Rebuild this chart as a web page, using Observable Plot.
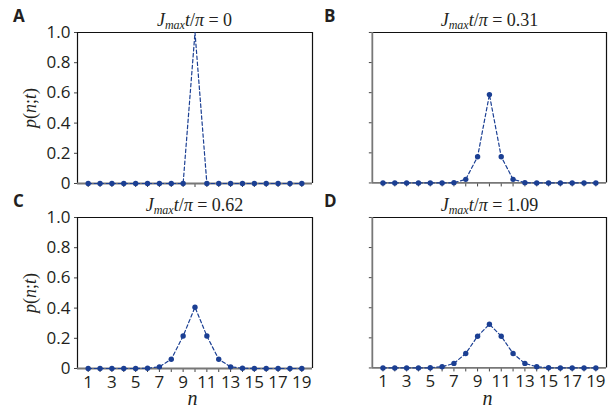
<!DOCTYPE html>
<html>
<head>
<meta charset="utf-8">
<script src="https://cdn.jsdelivr.net/npm/d3@7"></script>
<script src="https://cdn.jsdelivr.net/npm/@observablehq/plot@0.6"></script>
<style>
  html, body { margin: 0; padding: 0; background: #fff; }
  #wrap { position: relative; width: 608px; height: 410px; overflow: hidden; font-family: "Open Sans", sans-serif; color: #231f20; }
  .panel { position: absolute; }
  .panel svg { overflow: visible; }
  .title { position: absolute; font-family: "Liberation Serif", serif; font-size: 18px; white-space: nowrap; transform: translateX(-50%); line-height: 1; }
  .title sub { font-size: 12px; vertical-align: -3px; }
  .letter { position: absolute; font-family: "Open Sans", sans-serif; font-weight: 700; font-size: 17px; line-height: 1; }
  .ylab { position: absolute; font-family: "Liberation Serif", serif; font-size: 18px; white-space: nowrap; transform: translate(-50%, -50%) rotate(-90deg); line-height: 1; }
  .xlab { position: absolute; font-family: "Liberation Serif", serif; font-size: 20px; font-style: italic; transform: translate(-50%, -50%); line-height: 1; }
</style>
</head>
<body>
<div id="wrap"></div>
<script>
// ---- data ----
const n = [1, 2, 3, 4, 5, 6, 7, 8, 9, 10, 11, 12, 13, 14, 15, 16, 17, 18, 19];
const pA = [0, 0, 0, 0, 0, 0, 0, 0, 0, 1, 0, 0, 0, 0, 0, 0, 0, 0, 0];
const pB = [0, 0, 0, 0, 0, 0, 0.002, 0.024, 0.174, 0.587, 0.174, 0.024, 0.002, 0, 0, 0, 0, 0, 0];
const pC = [0, 0, 0, 0, 0, 0.002, 0.011, 0.061, 0.215, 0.406, 0.215, 0.061, 0.011, 0.002, 0, 0, 0, 0, 0];
const pD = [0, 0, 0, 0, 0.001, 0.008, 0.030, 0.096, 0.211, 0.290, 0.211, 0.096, 0.030, 0.008, 0.001, 0, 0, 0, 0];
const times = ["0", "0.31", "0.62", "1.09"];
const letters = ["A", "B", "C", "D"];
const yTicks = [0, 0.2, 0.4, 0.6, 0.8, 1.0];
const xLabelTicks = [1, 3, 5, 7, 9, 11, 13, 15, 17, 19];

const series = [pA, pB, pC, pD];
const blue = "#1b3f93";

// frame geometry (pixel positions of each panel's plotting area)
const frames = [
  {left: 77, top: 32, showX: false, showY: true},
  {left: 372, top: 32, showX: false, showY: false},
  {left: 77, top: 217, showX: true, showY: true},
  {left: 372, top: 217, showX: true, showY: false}
];
const fw = 235, fh = 151;
const mL = 50, mR = 2, mT = 6, mB = 30;

const wrap = document.getElementById("wrap");

series.forEach((p, i) => {
  const f = frames[i];
  const data = n.map((v, j) => ({n: v, p: p[j]}));
  const chart = Plot.plot({
    width: fw + mL + mR,
    height: fh + mT + mB,
    marginLeft: mL, marginRight: mR, marginTop: mT, marginBottom: mB,
    x: {domain: [0.1, 19.9]},
    y: {domain: [0, 1]},
    style: {fontFamily: "Open Sans", fontSize: "17px", color: "#231f20", background: "transparent", overflow: "visible"},
    marks: [
      Plot.axisX({ticks: n, tickSize: 4, tickPadding: 3, stroke: "#444",
        tickFormat: f.showX ? (d => xLabelTicks.includes(d) ? String(d) : "") : (() => ""), label: null}),
      Plot.axisY({ticks: yTicks, tickSize: 3, tickPadding: 4, stroke: "#444",
        tickFormat: f.showY ? (d => d === 0 ? "0" : d.toFixed(1)) : (() => ""), label: null}),
      Plot.ruleY([1], {stroke: "#111", strokeWidth: 1.2}),
      Plot.ruleX([19.9], {stroke: "#111", strokeWidth: 1.2}),
      Plot.ruleX([0.1], {stroke: f.showY ? "#111" : "#777", strokeWidth: f.showY ? 1.2 : 1.8}),
      Plot.ruleY([0], {stroke: "#777", strokeWidth: 1.8}),
      Plot.line(data, {x: "n", y: "p", stroke: blue, strokeWidth: 1.2, strokeDasharray: "3.5,2.5"}),
      Plot.dot(data, {x: "n", y: "p", r: 2.7, fill: blue, stroke: "none", filter: d => d.p < 1})
    ]
  });
  const holder = document.createElement("div");
  holder.className = "panel";
  holder.style.left = (f.left - mL) + "px";
  holder.style.top = (f.top - mT) + "px";
  holder.appendChild(chart);
  wrap.appendChild(holder);

  // title
  const t = document.createElement("div");
  t.className = "title";
  t.style.left = (f.left + fw / 2) + "px";
  t.style.top = (f.top - 21) + "px";
  t.innerHTML = `<i>J</i><sub><i>max</i></sub><i>t</i>/<i>π</i> = ${times[i]}`;
  wrap.appendChild(t);

  // panel letter
  const L = document.createElement("div");
  L.className = "letter";
  L.style.left = (f.left - (f.showY ? 64 : 48)) + "px";
  L.style.top = (f.top - 25) + "px";
  L.textContent = letters[i];
  wrap.appendChild(L);

  if (f.showY) {
    const yl = document.createElement("div");
    yl.className = "ylab";
    yl.style.left = "30px";
    yl.style.top = (f.top + fh / 2) + "px";
    yl.innerHTML = `<i>p</i>(<i>n</i>;<i>t</i>)`;
    wrap.appendChild(yl);
  }
  if (f.showX) {
    const xl = document.createElement("div");
    xl.className = "xlab";
    xl.style.left = (f.left + fw / 2 - 2) + "px";
    xl.style.top = (f.top + fh + 30) + "px";
    xl.textContent = "n";
    wrap.appendChild(xl);
  }
});
</script>
</body>
</html>
